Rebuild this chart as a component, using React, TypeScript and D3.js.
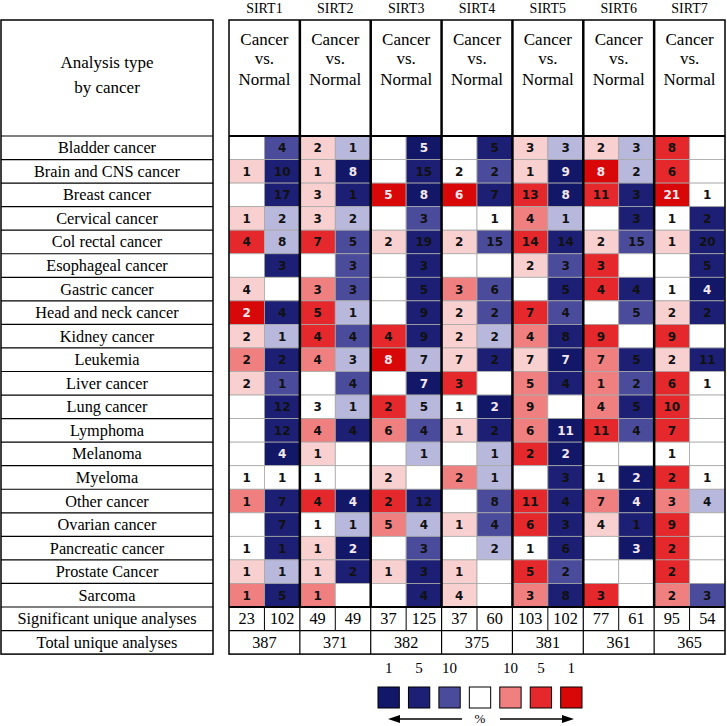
import React from "react";
import * as d3 from "d3";

const genes = ["SIRT1", "SIRT2", "SIRT3", "SIRT4", "SIRT5", "SIRT6", "SIRT7"];
const cancers = [
  "Bladder cancer", "Brain and CNS cancer", "Breast cancer", "Cervical cancer",
  "Col rectal cancer", "Esophageal cancer", "Gastric cancer", "Head and neck cancer",
  "Kidney cancer", "Leukemia", "Liver cancer", "Lung cancer", "Lymphoma", "Melanoma",
  "Myeloma", "Other cancer", "Ovarian cancer", "Pancreatic cancer", "Prostate Cancer", "Sarcoma",
];

// each entry: [over-expression cell, under-expression cell] as "count:level"
const SIRT1 = [
  ["", "4:bM"], ["1:rL", "10:bN"], ["", "17:bN"], ["1:rL", "2:bL"], ["4:rR", "8:bL"],
  ["", "3:bN"], ["4:rL", ""], ["2:rB", "4:bN"], ["2:rL", "1:bL"], ["2:rM", "2:bN"],
  ["2:rL", "1:bM"], ["", "12:bN"], ["", "12:bN"], ["", "4:bD"], ["1:w", "1:w"],
  ["1:rM", "7:bN"], ["", "7:bN"], ["1:w", "1:bN"], ["1:rL", "1:bL"], ["1:rM", "5:bN"],
];
const SIRT2 = [
  ["2:rL", "1:bL"], ["1:rL", "8:bD"], ["3:rL", "1:bN"], ["3:rL", "2:bL"], ["7:rR", "5:bM"],
  ["", "3:bM"], ["3:rM", "3:bM"], ["5:rR", "1:bL"], ["4:rR", "4:bM"], ["4:rM", "3:bL"],
  ["", "4:bM"], ["3:w", "1:bL"], ["4:rM", "4:bN"], ["1:rL", ""], ["1:w", ""],
  ["4:rR", "4:bD"], ["1:w", "1:bL"], ["1:rL", "2:bD"], ["1:rL", "2:bN"], ["1:rM", ""],
];
const SIRT3 = [
  ["", "5:bD"], ["", "15:bN"], ["5:rB", "8:bD"], ["", "3:bM"], ["2:rL", "19:bN"],
  ["", "3:bN"], ["", "5:bN"], ["", "9:bN"], ["4:rR", "9:bN"], ["8:rB", "7:bL"],
  ["", "7:bD"], ["2:rR", "5:bL"], ["6:rM", "4:bM"], ["", "1:bL"], ["2:rL", ""],
  ["2:rR", "12:bN"], ["5:rM", "4:bL"], ["", "3:bM"], ["1:rL", "3:bN"], ["", "4:bN"],
];
const SIRT4 = [
  ["", "5:bN"], ["2:w", "2:bM"], ["6:rB", "7:bN"], ["", "1:w"], ["2:rL", "15:bM"],
  ["", ""], ["3:rM", "6:bM"], ["2:rL", "2:bM"], ["2:rL", "2:bL"], ["7:rL", "2:bN"],
  ["3:rR", ""], ["1:w", "2:bD"], ["1:rL", "2:bN"], ["", "1:bL"], ["2:rM", "1:bL"],
  ["", "8:bM"], ["1:rL", "4:bM"], ["", "2:bL"], ["1:rL", ""], ["4:rL", ""],
];
const SIRT5 = [
  ["3:rL", "3:bL"], ["1:rL", "9:bD"], ["13:rR", "8:bD"], ["4:rM", "1:bL"], ["14:rR", "14:bN"],
  ["2:rL", "3:bM"], ["", "5:bN"], ["7:rR", "4:bM"], ["4:rM", "8:bN"], ["7:rL", "7:bD"],
  ["5:rM", "4:bN"], ["9:rM", ""], ["6:rM", "11:bD"], ["2:rR", "2:bD"], ["", "3:bN"],
  ["11:rR", "4:bN"], ["6:rR", "3:bN"], ["1:w", "6:bN"], ["5:rR", "2:bM"], ["3:rM", "8:bN"],
];
const SIRT6 = [
  ["2:rL", "3:bL"], ["8:rB", "2:bL"], ["11:rR", "3:bN"], ["", "3:bN"], ["2:rL", "15:bM"],
  ["3:rR", ""], ["4:rR", "4:bN"], ["", "5:bM"], ["9:rR", ""], ["7:rM", "5:bN"],
  ["1:rM", "2:bM"], ["4:rM", "5:bN"], ["11:rR", "4:bM"], ["", ""], ["1:w", "2:bD"],
  ["7:rM", "4:bD"], ["4:rL", "1:bN"], ["", "3:bD"], ["", ""], ["3:rR", ""],
];
const SIRT7 = [
  ["8:rR", ""], ["6:rR", ""], ["21:rB", "1:w"], ["1:w", "2:bN"], ["1:rL", "20:bN"],
  ["", "5:bN"], ["1:w", "4:bD"], ["2:rL", "2:bN"], ["9:rR", ""], ["2:rL", "11:bN"],
  ["6:rR", "1:w"], ["10:rR", ""], ["7:rR", ""], ["1:w", ""], ["2:rR", "1:w"],
  ["3:rM", "4:bL"], ["9:rR", ""], ["2:rR", ""], ["2:rR", ""], ["2:rM", "3:bM"],
];
const geneCells = [SIRT1, SIRT2, SIRT3, SIRT4, SIRT5, SIRT6, SIRT7];

const sigUp = [23, 49, 37, 37, 103, 77, 95];
const sigDown = [102, 49, 125, 60, 102, 61, 54];
const totals = [387, 371, 382, 375, 381, 361, 365];

const legendLevels = ["bD", "bN", "bM", "w", "rM", "rR", "rB"];
const legendLabels = ["1", "5", "10", "", "10", "5", "1"];

const fills: Record<string, string> = {
  w: "#ffffff",
  rL: "#f9d0d0",
  rM: "#f08080",
  rR: "#e4282c",
  rB: "#d80808",
  bL: "#b8b8dd",
  bM: "#4b4b9b",
  bN: "#1c1f74",
  bD: "#131768",
};
const textFill = (lvl: string) => (lvl === "rB" || lvl === "bD" ? "#f4e8f0" : "#111");

const SERIF = "'Liberation Serif', 'Times New Roman', serif";
const SANS = "'DejaVu Sans', Verdana, sans-serif";

export default function App() {
  const W = 727, H = 726;
  const gridL = 229, gridR = 725;
  const headTop = 20, headBot = 136;
  const rowsBot = 607;
  const x = d3.scaleBand<string>().domain(genes).range([gridL, gridR]);
  const y = d3.scaleBand<string>().domain(cancers).range([headBot, rowsBot]);
  const rh = y.bandwidth();
  const sigTop = rowsBot, sigBot = rowsBot + rh, totBot = sigBot + rh;
  const bw = x.bandwidth();
  const half = bw / 2;

  const legX = d3.scaleBand<string>().domain(legendLevels.map((_, i) => String(i))).range([378, 582]).paddingInner(0.3);

  return (
    <svg width={W} height={H} style={{ position: "absolute", left: 0, top: 0, background: "#fff" }}>
      {/* gene titles */}
      {genes.map((g) => (
        <text key={g} x={x(g)! + bw / 2} y={13} textAnchor="middle" fontFamily={SERIF} fontSize={14}>{g}</text>
      ))}

      {/* left table */}
      <rect x={1} y={headTop} width={212} height={totBot - headTop} fill="none" stroke="#000" strokeWidth={1.5} />
      <line x1={1} x2={213} y1={headBot} y2={headBot} stroke="#000" strokeWidth={1.2} />
      <text x={107} y={68} textAnchor="middle" fontFamily={SERIF} fontSize={17}>Analysis type</text>
      <text x={107} y={93} textAnchor="middle" fontFamily={SERIF} fontSize={17}>by cancer</text>
      {cancers.map((c) => (
        <g key={c}>
          <line x1={1} x2={213} y1={y(c)! + rh} y2={y(c)! + rh} stroke="#000" strokeWidth={1.2} />
          <text x={107} y={y(c)! + rh / 2 + 5.5} textAnchor="middle" fontFamily={SERIF} fontSize={16.3}>{c}</text>
        </g>
      ))}
      <line x1={1} x2={213} y1={sigBot} y2={sigBot} stroke="#000" strokeWidth={1.2} />
      <text x={107} y={sigTop + rh / 2 + 5.5} textAnchor="middle" fontFamily={SERIF} fontSize={16.3}>Significant unique analyses</text>
      <text x={107} y={sigBot + rh / 2 + 5.5} textAnchor="middle" fontFamily={SERIF} fontSize={16.3}>Total unique analyses</text>

      {/* heat cells */}
      {geneCells.map((cells, gi) =>
        cells.map((pair, ri) =>
          pair.map((cell, k) => {
            const [v, lvl] = cell ? cell.split(":") : ["", "w"];
            const cx = x(genes[gi])! + k * half;
            const cy = y(cancers[ri])!;
            return (
              <g key={`${gi}-${ri}-${k}`}>
                <rect x={cx} y={cy} width={half} height={rh} fill={fills[lvl]} stroke="#a8a8a8" strokeWidth={0.8} />
                {v && (
                  <text x={cx + half / 2} y={cy + rh / 2 + 4.5} textAnchor="middle" fontFamily={SANS} fontWeight="bold" fontSize={12} fill={textFill(lvl)}>{v}</text>
                )}
              </g>
            );
          })
        )
      )}

      {/* header text in grid */}
      {genes.map((g) => (
        <g key={`h-${g}`} fontFamily={SERIF} fontSize={17} textAnchor="middle">
          <text x={x(g)! + bw / 2} y={45}>Cancer</text>
          <text x={x(g)! + bw / 2} y={64}>vs.</text>
          <text x={x(g)! + bw / 2} y={85}>Normal</text>
        </g>
      ))}

      {/* significant / total rows */}
      {genes.map((g, i) => (
        <g key={`s-${g}`} fontFamily={SERIF} fontSize={16.3} textAnchor="middle">
          <text x={x(g)! + half / 2} y={sigTop + rh / 2 + 5.5}>{sigUp[i]}</text>
          <text x={x(g)! + half * 1.5} y={sigTop + rh / 2 + 5.5}>{sigDown[i]}</text>
          <line x1={x(g)! + half} x2={x(g)! + half} y1={sigTop} y2={sigBot} stroke="#000" strokeWidth={1} />
          <text x={x(g)! + bw / 2} y={sigBot + rh / 2 + 5.5}>{totals[i]}</text>
        </g>
      ))}
      <line x1={gridL} x2={gridR} y1={sigBot} y2={sigBot} stroke="#000" strokeWidth={1.2} />

      {/* gene dividers */}
      {genes.slice(1).map((g) => (
        <g key={`d-${g}`}>
          <line x1={x(g)!} x2={x(g)!} y1={headTop} y2={rowsBot} stroke="#000" strokeWidth={2.5} />
          <line x1={x(g)!} x2={x(g)!} y1={rowsBot} y2={totBot} stroke="#000" strokeWidth={1.2} />
        </g>
      ))}
      <line x1={gridL} x2={gridR} y1={headBot} y2={headBot} stroke="#000" strokeWidth={2.2} />
      <line x1={gridL} x2={gridR} y1={rowsBot} y2={rowsBot} stroke="#000" strokeWidth={2} />
      <rect x={gridL} y={headTop} width={gridR - gridL} height={totBot - headTop} fill="none" stroke="#000" strokeWidth={1.5} />

      {/* legend */}
      {legendLevels.map((lvl, i) => {
        const lx = legX(String(i))!;
        const lw = legX.bandwidth();
        return (
          <g key={`l-${i}`}>
            <rect x={lx} y={687} width={lw} height={21} fill={fills[lvl]} stroke="#000" strokeWidth={1} />
            {legendLabels[i] && (
              <text x={lx + lw / 2} y={673} textAnchor="middle" fontFamily={SERIF} fontSize={15}>{legendLabels[i]}</text>
            )}
          </g>
        );
      })}
      <line x1={462} x2={398} y1={719} y2={719} stroke="#000" strokeWidth={1.5} />
      <path d="M388,719 L400,715 L400,723 Z" fill="#000" />
      <line x1={500} x2={564} y1={719} y2={719} stroke="#000" strokeWidth={1.5} />
      <path d="M574,719 L562,715 L562,723 Z" fill="#000" />
      <text x={480} y={723} textAnchor="middle" fontFamily={SERIF} fontSize={13}>%</text>
    </svg>
  );
}
